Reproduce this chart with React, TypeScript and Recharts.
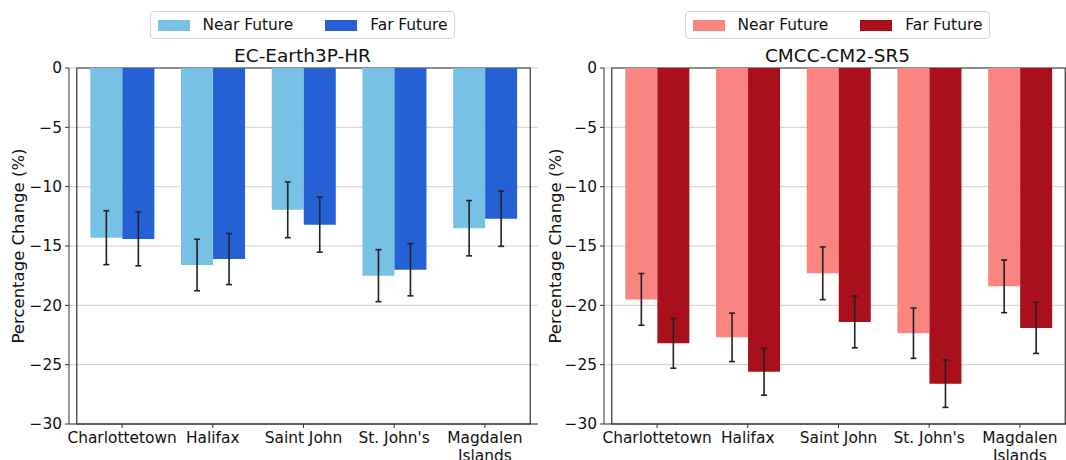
import { Bar, BarChart, CartesianGrid, ErrorBar, Legend, ReferenceArea, XAxis, YAxis } from "recharts";

const cities = ["Charlottetown", "Halifax", "Saint John", "St. John's", "Magdalen\nIslands"];
const seriesNames = ["Near Future", "Far Future"];
const yTicks = [0, -5, -10, -15, -20, -25, -30];

// EC-Earth3P-HR, mean change and spread per city
const ecNear = [-14.3, -16.6, -11.95, -17.5, -13.5];
const ecNearErr = [2.27, 2.17, 2.35, 2.19, 2.33];
const ecFar = [-14.4, -16.1, -13.2, -17.0, -12.7];
const ecFarErr = [2.27, 2.15, 2.32, 2.2, 2.33];

// CMCC-CM2-SR5
const cmccNear = [-19.5, -22.7, -17.3, -22.35, -18.4];
const cmccNearErr = [2.18, 2.04, 2.22, 2.12, 2.22];
const cmccFar = [-23.2, -25.6, -21.4, -26.6, -21.9];
const cmccFarErr = [2.1, 1.97, 2.18, 2.0, 2.15];

const FONT = '"DejaVu Sans", sans-serif';
const PLOT_W = 469;
const HEIGHT = 460;

const fmtTick = (v: number) => (v < 0 ? `\u2212${Math.abs(v)}` : `${v}`);

function CityTick({ x, y, payload }: any) {
  const lines = String(payload.value).split("\n");
  return (
    <text x={x} y={y} textAnchor="middle" fill="#111" fontSize={15.4} fontFamily={FONT}>
      {lines.map((l, i) => (
        <tspan key={i} x={x} dy={i === 0 ? "0.71em" : "1.15em"}>
          {l}
        </tspan>
      ))}
    </text>
  );
}

function PanelHeader({ colors, title, left, right }: any) {
  return (
    <div
      style={{
        height: 68,
        paddingLeft: left,
        paddingRight: right,
        boxSizing: "border-box",
        display: "flex",
        flexDirection: "column",
        alignItems: "center",
        fontFamily: FONT,
        color: "#111",
      }}
    >
      <div
        style={{
          marginTop: 11,
          height: 28,
          boxSizing: "border-box",
          border: "1px solid #d4d4d4",
          borderRadius: 4,
          padding: "0 7px",
          display: "flex",
          alignItems: "center",
          fontSize: 15.4,
        }}
      >
        {seriesNames.map((name, i) => (
          <div key={name} style={{ display: "flex", alignItems: "center", marginLeft: i === 0 ? 0 : 32 }}>
            <span style={{ width: 32, height: 11, background: colors[i], display: "inline-block", marginRight: 13 }} />
            <span>{name}</span>
          </div>
        ))}
      </div>
      <div style={{ fontSize: 18.5, lineHeight: "22px", marginTop: 6 }}>{title}</div>
    </div>
  );
}

function Panel({
  title,
  near,
  nearErr,
  far,
  farErr,
  nearColor,
  farColor,
  axisWidth,
  labelOffset,
}: {
  title: string;
  near: number[];
  nearErr: number[];
  far: number[];
  farErr: number[];
  nearColor: string;
  farColor: string;
  axisWidth: number;
  labelOffset: number;
}) {
  const rows = cities.map((city, i) => ({
    city,
    near: near[i],
    nearErr: nearErr[i],
    far: far[i],
    farErr: farErr[i],
  }));
  const width = axisWidth + PLOT_W + 2;

  return (
    <BarChart
      width={width}
      height={HEIGHT}
      data={rows}
      margin={{ top: 0, right: 2, bottom: 0, left: 0 }}
      barCategoryGap="15%"
      barGap={0}
    >
      <Legend
        verticalAlign="top"
        content={() => (
          <PanelHeader colors={[nearColor, farColor]} title={title} left={axisWidth} right={2} />
        )}
      />
      <XAxis
        dataKey="city"
        height={36}
        padding={{ left: 7.75, right: 7.75 }}
        tick={<CityTick />}
        tickSize={4}
        tickMargin={4}
        interval={0}
        stroke="#333"
      />
      <YAxis
        domain={[-30, 0]}
        ticks={yTicks}
        width={axisWidth}
        tickFormatter={fmtTick}
        tick={{ fill: "#111", fontSize: 15.4, fontFamily: FONT }}
        tickSize={4}
        tickMargin={3}
        stroke="#333"
        label={{
          value: "Percentage Change (%)",
          angle: -90,
          position: "insideLeft",
          offset: labelOffset,
          style: { textAnchor: "middle", fill: "#111", fontSize: 16.5, fontFamily: FONT },
        }}
      />
      <Bar dataKey="near" name={seriesNames[0]} fill={nearColor} isAnimationActive={false}>
        <ErrorBar dataKey="nearErr" width={3} strokeWidth={1.6} stroke="#222" direction="y" />
      </Bar>
      <Bar dataKey="far" name={seriesNames[1]} fill={farColor} isAnimationActive={false}>
        <ErrorBar dataKey="farErr" width={3} strokeWidth={1.6} stroke="#222" direction="y" />
      </Bar>
      <CartesianGrid vertical={false} stroke="#b0b0b0" strokeOpacity={0.6} />
      {/* frame around the plot area */}
      <ReferenceArea y1={-30} y2={0} fill="none" stroke="#333" strokeWidth={1.2} ifOverflow="visible" />
    </BarChart>
  );
}

export default function App() {
  return (
    <div
      style={{
        position: "absolute",
        left: 0,
        top: 0,
        width: 1066,
        height: HEIGHT,
        overflow: "hidden",
        background: "#fff",
      }}
    >
      <div style={{ position: "absolute", left: 0, top: 0 }}>
        <Panel
          title="EC-Earth3P-HR"
          near={ecNear}
          nearErr={ecNearErr}
          far={ecFar}
          farErr={ecFarErr}
          nearColor="#77c1e5"
          farColor="#2561d5"
          axisWidth={69}
          labelOffset={18}
        />
      </div>
      <div style={{ position: "absolute", left: 540, top: 0 }}>
        <Panel
          title="CMCC-CM2-SR5"
          near={cmccNear}
          nearErr={cmccNearErr}
          far={cmccFar}
          farErr={cmccFarErr}
          nearColor="#f98480"
          farColor="#aa101c"
          axisWidth={64}
          labelOffset={15}
        />
      </div>
    </div>
  );
}
